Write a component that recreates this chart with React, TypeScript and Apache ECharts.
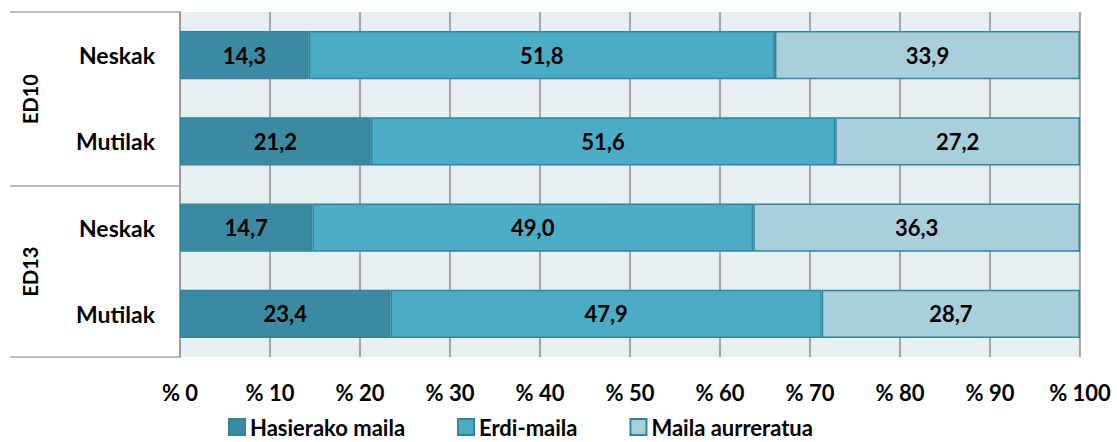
import React, { useEffect, useRef } from "react";
import * as echarts from "echarts";

const categories = ["Neskak", "Mutilak", "Neskak", "Mutilak"];
const groups = ["ED10", "ED13"];
const hasierako = [14.3, 21.2, 14.7, 23.4];
const erdi = [51.8, 51.6, 49.0, 47.9];
const aurreratua = [33.9, 27.2, 36.3, 28.7];
const seriesNames = ["Hasierako maila", "Erdi-maila", "Maila aurreratua"];
const xTicks = [0, 10, 20, 30, 40, 50, 60, 70, 80, 90, 100];

const FONT = "Lato, 'Open Sans', sans-serif";

export default function App() {
  const ref = useRef<HTMLDivElement>(null);
  useEffect(() => {
    if (!ref.current) return;
    const chart = echarts.init(ref.current, null, { renderer: "svg" });
    const colors = ["#3C8AA1", "#4BACC6", "#A9CEDC"];
    const values = [hasierako, erdi, aurreratua];
    const gridLeft = 180, gridTop = 12, gridBottomY = 357;
    const sepY = 186;
    chart.setOption({
      animation: false,
      grid: {
        left: gridLeft,
        right: 37,
        top: gridTop,
        bottom: 442 - gridBottomY,
        show: true,
        backgroundColor: "#E8EFF3",
        borderWidth: 0,
      },
      xAxis: {
        type: "value",
        min: 0,
        max: 100,
        interval: 10,
        axisLine: { show: false },
        axisTick: { show: false },
        splitLine: { show: true, lineStyle: { color: "#8C8C8C", width: 1.5 } },
        axisLabel: {
          margin: 24,
          color: "#000",
          fontFamily: FONT,
          fontWeight: "bold",
          fontSize: 22,
          formatter: (v: number) => (xTicks.includes(v) ? "% " + v : ""),
        },
      },
      yAxis: {
        type: "category",
        inverse: true,
        data: categories,
        axisLine: { show: true, lineStyle: { color: "#999999", width: 1.5 } },
        axisTick: { show: false },
        axisLabel: {
          margin: 25,
          color: "#000",
          fontFamily: FONT,
          fontWeight: "bold",
          fontSize: 23,
        },
      },
      legend: {
        left: 228,
        top: 416,
        padding: 0,
        itemWidth: 16,
        itemHeight: 16,
        itemGap: 52,
        icon: "rect",
        textStyle: { color: "#000", fontFamily: FONT, fontWeight: "bold", fontSize: 22, lineHeight: 22 },
        data: seriesNames,
      },
      graphic: [
        { type: "line", shape: { x1: 10, y1: gridTop, x2: gridLeft, y2: gridTop }, style: { stroke: "#A6A6A6", lineWidth: 1.5 } },
        { type: "line", shape: { x1: 10, y1: sepY, x2: gridLeft, y2: sepY }, style: { stroke: "#A6A6A6", lineWidth: 1.5 } },
        { type: "line", shape: { x1: 10, y1: gridBottomY, x2: gridLeft, y2: gridBottomY }, style: { stroke: "#A6A6A6", lineWidth: 1.5 } },
        {
          type: "text", x: 30, y: (gridTop + sepY) / 2, rotation: Math.PI / 2,
          style: { text: groups[0], fill: "#000", font: `bold 20px ${FONT}`, align: "center", verticalAlign: "middle" },
        },
        {
          type: "text", x: 30, y: (sepY + gridBottomY) / 2, rotation: Math.PI / 2,
          style: { text: groups[1], fill: "#000", font: `bold 20px ${FONT}`, align: "center", verticalAlign: "middle" },
        },
      ],
      series: seriesNames.map((name, i) => ({
        name,
        type: "bar",
        stack: "total",
        barCategoryGap: "44%",
        data: values[i],
        itemStyle: { color: colors[i], borderColor: "#31849B", borderWidth: 1.5 },
        label: {
          show: true,
          position: "inside",
          color: "#000",
          fontFamily: FONT,
          fontWeight: "bold",
          fontSize: 22,
          formatter: (p: any) => p.value.toFixed(1).replace(".", ","),
        },
      })),
    });
    return () => chart.dispose();
  }, []);
  return <div ref={ref} style={{ width: 1117, height: 442, position: "absolute", left: 0, top: 0 }} />;
}
